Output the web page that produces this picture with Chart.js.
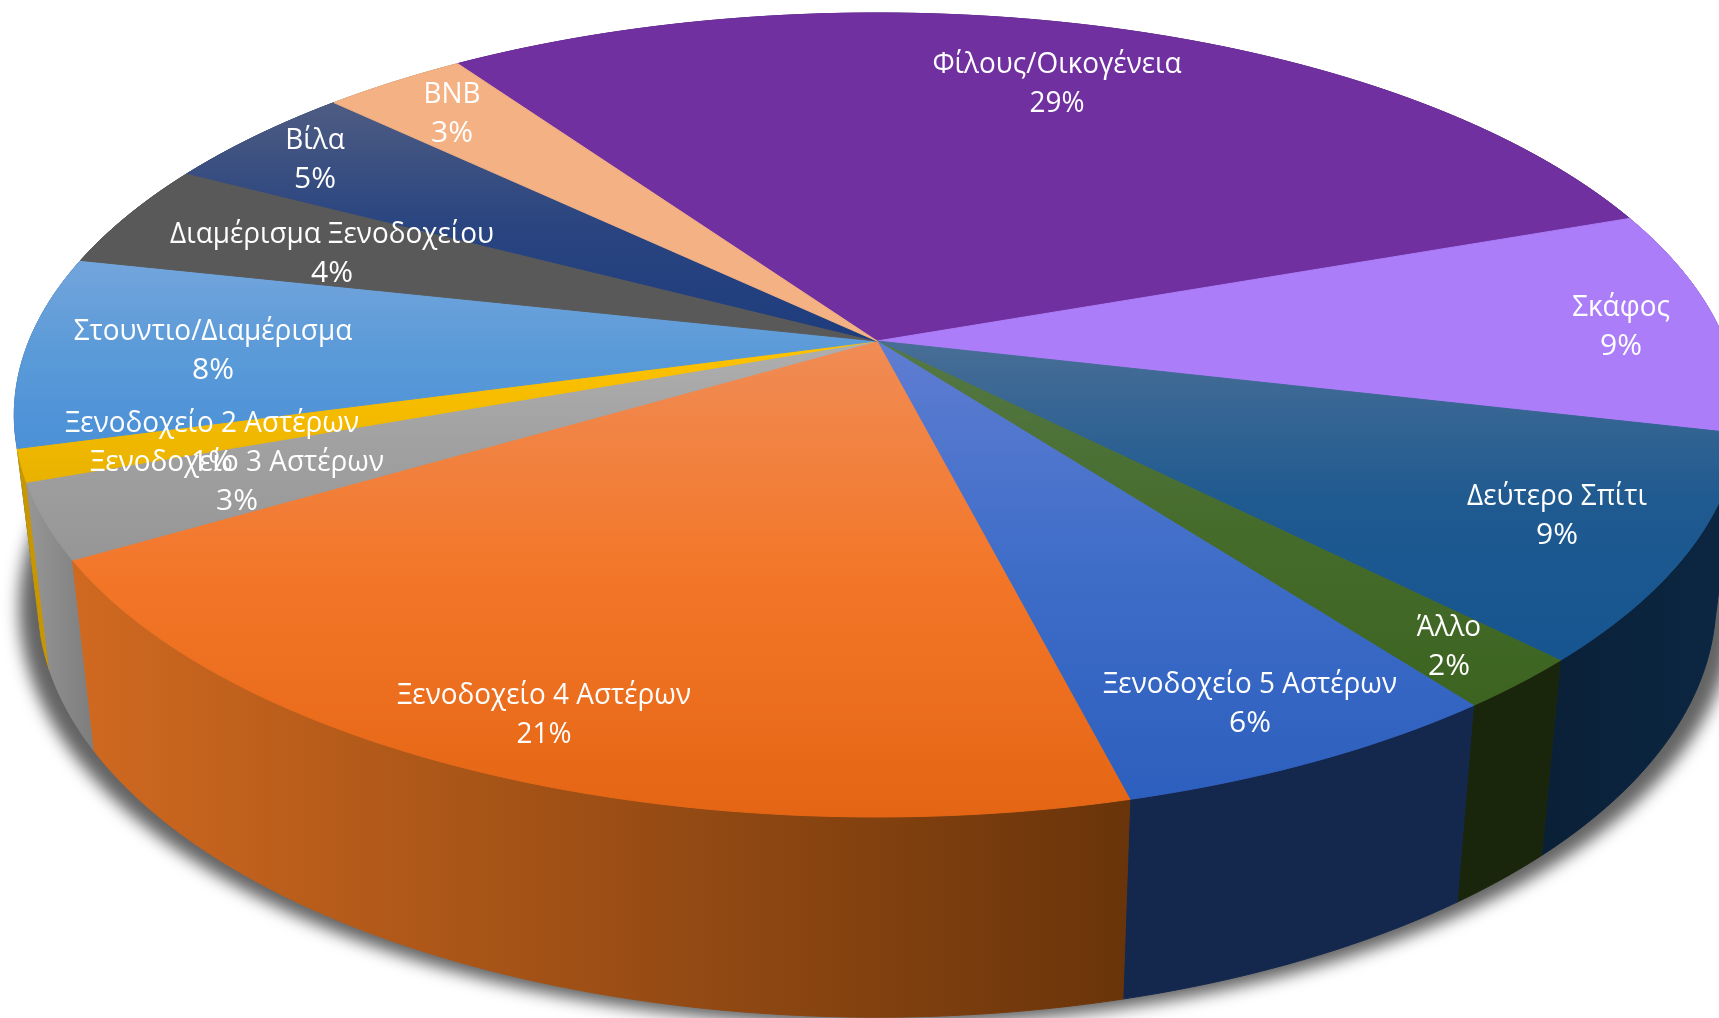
<!DOCTYPE html>
<html lang="el">
<head>
<meta charset="utf-8">
<title>Διαμονή</title>
<script src="https://cdn.jsdelivr.net/npm/chart.js@4"></script>
<style>
    html, body { margin: 0; padding: 0; background: #fff; overflow: hidden; }
    canvas { display: block; }
</style>
</head>
<body>
<canvas id="pieChart" width="1719" height="1018"></canvas>
<script>
const categories = ['Φίλους/Οικογένεια', 'Σκάφος', 'Δεύτερο Σπίτι', 'Άλλο', 'Ξενοδοχείο 5 Αστέρων',
    'Ξενοδοχείο 4 Αστέρων', 'Ξενοδοχείο 3 Αστέρων', 'Ξενοδοχείο 2 Αστέρων', 'Στουντιο/Διαμέρισμα',
    'Διαμέρισμα Ξενοδοχείου', 'Βίλα', 'BNB'];
// Slice sizes as measured on the picture, printedPercent is what its labels say
const shares = [29.2, 9.1, 9.0, 2.1, 6.3, 20.4, 3.0, 1.3, 7.7, 4.3, 4.4, 3.2];
const printedPercent = [29, 9, 9, 2, 6, 21, 3, 1, 8, 4, 5, 3];

// Top face: lighter colour at the far edge of a slice, fading to the base colour at the near edge
const topColors = ['#7030a0', '#ab7df8', '#486e96', '#557846', '#5f7dd2', '#f08c55', '#afafaf', '#ffc300', '#73a5dc', '#595959', '#4e5c82', '#f4b183'];
const midColors = ['#7030a0', '#ab7df8', '#1f5a90', '#466c2c', '#3e6dc8', '#f37628', '#a0a0a0', '#f5bb00', '#5a9ad8', '#595959', '#2a4580', '#f4b183'];
const baseColors = ['#7030a0', '#ab7df8', '#165591', '#3c6420', '#2d5fbe', '#e46614', '#969696', '#e8b200', '#4b91d7', '#595959', '#1e3c7d', '#f4b183'];
// Side wall: left and right colour
const wallLeft = ['#4a1f6a', '#6f50a0', '#0a2037', '#1a260c', '#14284e', '#d06920', '#969696', '#c89600', '#2f5f90', '#3a3a3a', '#14284e', '#a07555'];
const wallRight = ['#4a1f6a', '#6f50a0', '#0c2743', '#1a260c', '#14284e', '#69340a', '#7d7d7d', '#c89600', '#2f5f90', '#3a3a3a', '#14284e', '#a07555'];

// Centre of the first line of each data label
const labelX = [1057, 1621, 1557, 1449, 1250, 544, 237, 212, 213, 332, 315, 452];
const labelY = [64, 307, 496, 627, 684, 695, 462, 423, 331, 234, 140, 94];

// Perspective of the disc: the pie centre lands on apex, the circle on a tilted ellipse
const apexX = 877, apexY = 341;
const tiltC = -0.184, scaleY = 388.4, scaleX = 848;
// The wall edges converge on this point, depth is the fraction of the way to it.
// The wall also gets a bit taller towards the viewer
const vanishX = 872, vanishY = 7840, depth = 0.0272;
const wallGrow = 33, wallGrowFrom = 0.72;

function project(angle, radius, lower) {
    const u = radius * Math.cos(angle), v = radius * Math.sin(angle);
    const w = 1 + tiltC * v;
    let x = apexX + scaleX * u / w;
    let y = apexY + scaleY * v / w;
    if (lower) {
        x += (vanishX - x) * depth;
        y += (vanishY - y) * depth + wallGrow * (v - wallGrowFrom);
    }
    return { x, y };
}

function arcPoints(start, end, lower) {
    const steps = Math.max(4, Math.ceil((end - start) / 0.02));
    const points = [];
    for (let i = 0; i <= steps; i++) {
        points.push(project(start + (end - start) * i / steps, 1, lower));
    }
    return points;
}

function trace(ctx, points) {
    ctx.beginPath();
    points.forEach((p, i) => i ? ctx.lineTo(p.x, p.y) : ctx.moveTo(p.x, p.y));
    ctx.closePath();
}

function paint(ctx, points, fill) {
    trace(ctx, points);
    ctx.fillStyle = fill;
    ctx.strokeStyle = fill;
    ctx.lineWidth = 1;
    ctx.fill();
    ctx.stroke();
}

// Replaces the flat arcs of the pie with the tilted 3D version, angles come from the chart
const tiltedPie = {
    id: 'tiltedPie',
    beforeDatasetsDraw(chart) {
        const ctx = chart.ctx;
        const arcs = chart.getDatasetMeta(0).data;

        // soft shadow under the base, the shape itself sits off canvas so only the blur shows
        ctx.save();
        const away = 4000;
        const outline = arcPoints(0, Math.PI * 2, true)
            .map(p => ({ x: apexX + (p.x - apexX) * 1.022 - away, y: p.y + 8 }));
        ctx.shadowColor = 'rgb(100,100,100)';
        ctx.shadowBlur = 16;
        ctx.shadowOffsetX = away;
        trace(ctx, outline);
        ctx.fillStyle = '#000';
        ctx.fill();
        ctx.restore();

        // walls, far ones first
        const order = arcs.map((arc, i) => i)
            .sort((a, b) => Math.sin((arcs[a].startAngle + arcs[a].endAngle) / 2) - Math.sin((arcs[b].startAngle + arcs[b].endAngle) / 2));
        order.forEach(i => {
            const top = arcPoints(arcs[i].startAngle, arcs[i].endAngle, false);
            const bottom = arcPoints(arcs[i].startAngle, arcs[i].endAngle, true);
            const xs = top.concat(bottom).map(p => p.x);
            const fill = ctx.createLinearGradient(Math.min(...xs), 0, Math.max(...xs), 0);
            fill.addColorStop(0, wallLeft[i]);
            fill.addColorStop(1, wallRight[i]);
            paint(ctx, top.concat(bottom.reverse()), fill);
        });

        // top faces
        arcs.forEach((arc, i) => {
            const rim = arcPoints(arc.startAngle, arc.endAngle, false);
            const points = [project(0, 0, false)].concat(rim);
            const ys = points.map(p => p.y);
            const fill = ctx.createLinearGradient(0, Math.min(...ys), 0, Math.max(...ys));
            fill.addColorStop(0, topColors[i]);
            fill.addColorStop(0.5, midColors[i]);
            fill.addColorStop(1, baseColors[i]);
            paint(ctx, points, fill);
        });
        return false;
    },
    afterDraw(chart) {
        const ctx = chart.ctx;
        ctx.save();
        ctx.fillStyle = '#fff';
        ctx.textAlign = 'center';
        ctx.textBaseline = 'middle';
        ctx.font = '30px "Open Sans", "Noto Sans", sans-serif';
        categories.forEach((name, i) => {
            ctx.fillText(name, labelX[i], labelY[i], ctx.measureText(name).width * 0.93);
            ctx.fillText(printedPercent[i] + '%', labelX[i], labelY[i] + 39, ctx.measureText('00%').width * 0.93);
        });
        ctx.restore();
    }
};

new Chart(document.getElementById('pieChart'), {
    type: 'pie',
    data: {
        labels: categories,
        datasets: [{ data: shares, backgroundColor: baseColors, borderWidth: 0 }]
    },
    options: {
        responsive: false,
        animation: false,
        rotation: -34.7,
        plugins: { legend: { display: false }, tooltip: { enabled: false } }
    },
    plugins: [tiltedPie]
});
</script>
</body>
</html>
